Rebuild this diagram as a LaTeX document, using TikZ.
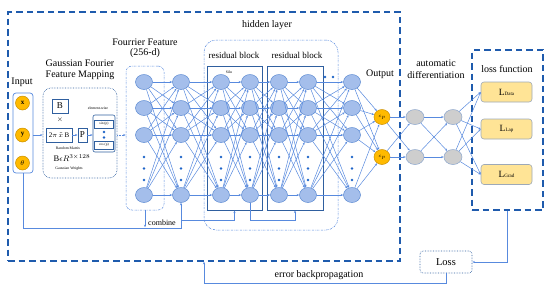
\documentclass[tikz,border=0pt]{standalone}
\usepackage{fontspec}
\setmainfont{Liberation Serif}
\usetikzlibrary{arrows.meta,shapes.geometric,calc}
\definecolor{linecol}{RGB}{88,138,222}
\definecolor{nfill}{RGB}{164,190,235}
\definecolor{nline}{RGB}{92,138,210}
\definecolor{dashblue}{RGB}{31,91,173}
\definecolor{rbcol}{RGB}{47,95,159}
\definecolor{orfill}{RGB}{255,186,0}
\definecolor{orline}{RGB}{201,143,0}
\definecolor{gfill}{RGB}{206,206,206}
\definecolor{gline}{RGB}{140,166,204}
\definecolor{yfill}{RGB}{255,228,150}
\definecolor{yline}{RGB}{157,169,184}
\definecolor{dotcol}{RGB}{30,100,200}
\tikzset{
  neuron/.style={ellipse,minimum width=17pt,minimum height=15pt,inner sep=0pt,fill=nfill,draw=nline,line width=0.5pt},
  outn/.style={ellipse,minimum width=16pt,minimum height=15pt,inner sep=0pt,fill=orfill,draw=orline,line width=0.5pt,font=\fontsize{4.5}{5}\selectfont},
  greyn/.style={ellipse,minimum width=18pt,minimum height=15pt,inner sep=0pt,fill=gfill,draw=gline,line width=0.5pt},
  inn/.style={circle,minimum size=14pt,inner sep=0pt,fill=orfill,draw=orline,line width=0.5pt,font=\fontsize{7}{8}\selectfont\bfseries},
  conn/.style={draw=linecol,line width=0.5pt,-{Stealth[length=2.5pt,width=2pt]}},
  bigdash/.style={draw=dashblue,line width=1.5pt,dash pattern=on 6.5pt off 4pt,inner sep=0pt},
  dotbox/.style={draw=linecol,line width=0.5pt,dash pattern=on 2pt off 1pt on 0.5pt off 1pt,inner sep=0pt},
  resbox/.style={draw=rbcol,line width=1pt,inner sep=0pt},
  sbox/.style={draw=rbcol,line width=0.9pt,inner sep=0pt,font=\fontsize{9}{10}\selectfont},
  tinybox/.style={draw=rbcol,line width=0.5pt,inner sep=0pt,font=\fontsize{3.5}{4}\selectfont},
  lbox/.style={rectangle,rounded corners=3pt,fill=yfill,draw=yline,line width=0.6pt,minimum width=51pt,minimum height=20pt,inner sep=0pt,font=\fontsize{9.5}{10}\selectfont},
  txt/.style={inner sep=0pt,font=\fontsize{10}{12}\selectfont},
  stxt/.style={inner sep=0pt,font=\fontsize{9}{10}\selectfont},
  ttxt/.style={inner sep=0pt,font=\fontsize{3.8}{4.5}\selectfont},
}
\newcommand{\lsub}[1]{{\fontsize{5}{6}\selectfont #1}}
\begin{document}
\begin{tikzpicture}[x=1pt,y=-1pt]
\useasboundingbox (0,0) rectangle (550,293);
% big boxes
\node[bigdash,minimum width=392pt,minimum height=249pt] (hid) at (204,136.5) {};
\node[bigdash,minimum width=71pt,minimum height=160pt] (lf) at (507.5,130) {};
\node[dotbox,rounded corners=12pt,minimum width=134pt,minimum height=190pt] (hbox) at (271,135) {};
\node[dotbox,rounded corners=6pt,minimum width=38pt,minimum height=144pt] (fbox) at (145,138) {};
\node[resbox,minimum width=55pt,minimum height=144pt] (rb1) at (234.5,138) {};
\node[resbox,minimum width=56pt,minimum height=144pt] (rb2) at (295,138) {};
% labels
\node[txt] (thl) at (267,25) {hidden layer};
\node[txt] (tin) at (22,82) {Input};
\node[txt] (tg1) at (80,63) {Gaussian Fourier};
\node[txt] (tg2) at (80,75) {Feature Mapping};
\node[txt] (tf1) at (145,42) {Fourrier Feature};
\node[txt] (tf2) at (145,53) {(256-d)};
\node[stxt] (trb1) at (234,55) {residual block};
\node[stxt] (trb2) at (297,55) {residual block};
\node[ttxt] (tsilu) at (229,72) {Silu};
\node[txt] (tout) at (380,74) {Output};
\node[txt] (tad1) at (436,63) {automatic};
\node[txt] (tad2) at (436,75) {differentiation};
\node[txt] (tlf) at (507,69) {loss function};
\node[inner sep=0pt,font=\fontsize{8}{9}\selectfont] (tcomb) at (162,223) {combine};
\node[txt] (terr) at (319,275) {error backpropagation};
% input
\node[draw=linecol,line width=0.7pt,rounded corners=3pt,minimum width=20pt,minimum height=80pt,inner sep=0pt] (inbox) at (23,133) {};
\node[inn] (inx) at (22.5,103) {x};
\node[inn] (iny) at (22.5,135) {y};
\node[inn] (int) at (22.5,163) {$\theta$};
% gaussian mapping
\node[draw=rbcol,line width=0.6pt,densely dotted,rounded corners=8pt,minimum width=74pt,minimum height=90pt,inner sep=0pt] (gauss) at (80,133) {};
\node[sbox,minimum width=16pt,minimum height=14pt] (bb) at (60,106) {B};
\node[inner sep=0pt,font=\fontsize{7}{8}\selectfont] (times) at (60,120) {$\times$};
\node[sbox,minimum width=26pt,minimum height=14pt,font=\fontsize{7}{8}\selectfont] (bx) at (59,135) {2$\pi\,\tilde{x}\,$B};
\node[sbox,minimum width=9pt,minimum height=14pt] (pp) at (82.5,135) {P};
\node[draw=rbcol,line width=0.6pt,rounded corners=2pt,minimum width=22pt,minimum height=37pt,inner sep=0pt] (sc) at (104,133.5) {};
\node[tinybox,minimum width=19pt,minimum height=8pt] (sinb) at (104,124) {sin (p)};
\node[tinybox,minimum width=19pt,minimum height=8pt] (cosb) at (104,145) {cos (p)};
\fill[dotcol] (104,132) circle (1.3pt) (104,137.5) circle (1.3pt);
\node[ttxt] (tew) at (98,108.5) {element-wise};
\node[ttxt] (trm) at (68,148) {Random Matrix};
\node[inner sep=0pt,font=\fontsize{8.5}{9}\selectfont] (tbr) at (72,158) {B$\epsilon R^{3\times128}$};
\node[ttxt] (tgw) at (69,169) {Gaussian Weights};
\draw[conn] (inbox.east |- iny) -- (gauss.west |- iny);
\draw[conn] (bx) -- (pp);
\draw[conn] (pp) -- (sc.west |- pp);
\draw[conn,densely dotted] (gauss.east |- iny) -- (fbox.west |- iny);
% neurons
\foreach \c/\x in {1/144,2/181,3/221,4/250,5/279,6/308,7/352} {
  \foreach \r/\y in {1/82,2/108,3/135,4/195} { \node[neuron] (c\c-r\r) at (\x,\y) {}; }
  \foreach \y in {157,168.5,180} { \fill[dotcol] (\x,\y) circle (1.3pt); }
}
\foreach \a/\b in {1/2,2/3,3/4,4/5,5/6,6/7}
  \foreach \i in {1,...,4}
    \foreach \j in {1,...,4}
      \draw[conn] (c\a-r\i) -- (c\b-r\j);
\fill[dotcol] (325,77) circle (1.3pt) (333,77) circle (1.3pt);
% output and autodiff
\node[outn] (cp1) at (382,117) {$c_p$};
\node[outn] (cp2) at (382,157) {$c_p$};
\node[greyn] (g1a) at (415,117) {};
\node[greyn] (g1b) at (415,157) {};
\node[greyn] (g2a) at (453,117) {};
\node[greyn] (g2b) at (453,157) {};
\foreach \i in {1,...,4} { \draw[conn] (c7-r\i) -- (cp1); \draw[conn] (c7-r\i) -- (cp2); }
\foreach \s in {cp1,cp2} { \draw[conn] (\s) -- (g1a); \draw[conn] (\s) -- (g1b); }
\foreach \s in {g1a,g1b} { \draw[conn] (\s) -- (g2a); \draw[conn] (\s) -- (g2b); }
\node[lbox] (ld) at (506.5,92) {L\lsub{Data}};
\node[lbox] (ll) at (506.5,129) {L\lsub{Lap}};
\node[lbox] (lg) at (506.5,174.5) {L\lsub{Grad}};
\foreach \s in {g2a,g2b} { \draw[conn] (\s) -- (ld.west); \draw[conn] (\s) -- (ll.west); \draw[conn] (\s) -- (lg.west); }
% combine and skips
\coordinate (cmb) at (181,228);
\draw[conn] (inbox.south) |- (cmb) -- (c2-r4.south);
\draw[conn] (fbox.south) -- ++(0,17);
\coordinate (s1) at (181,220);
\draw[conn] (s1) -| (rb1.south);
\draw[conn] (c4-r4.south) |- ($(rb2.south)+(0,10)$) -- (rb2.south);
% loss
\node[draw=rbcol,line width=0.6pt,densely dotted,rounded corners=3pt,minimum width=52pt,minimum height=22pt,inner sep=0pt,font=\fontsize{10.5}{12}\selectfont] (loss) at (446,262) {Loss};
\draw[conn] (lf.south) |- (loss.east);
\coordinate (ebp) at (204,283);
\draw[conn] (loss.south) |- (ebp) -- (ebp |- hid.south);
\end{tikzpicture}
\end{document}
